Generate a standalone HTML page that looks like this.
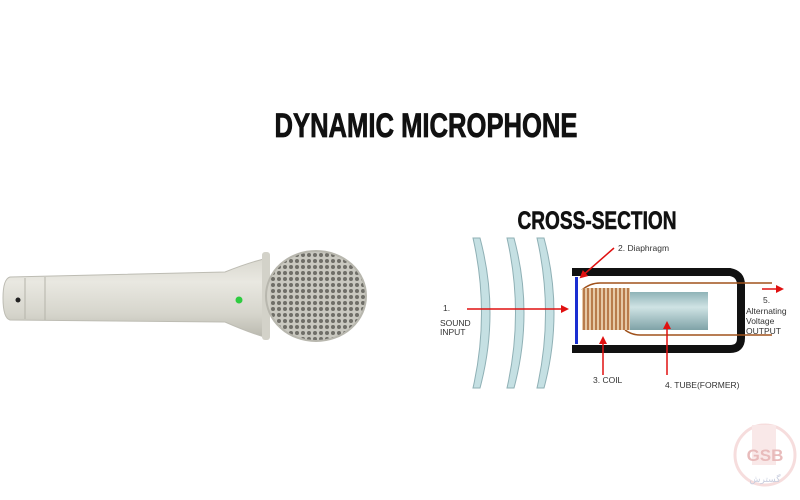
<!DOCTYPE html>
<html><head><meta charset="utf-8"><style>
html,body{margin:0;padding:0;background:#fff;}
svg{display:block;}
</style></head><body>
<svg width="800" height="500" viewBox="0 0 800 500" xmlns="http://www.w3.org/2000/svg" font-family="Liberation Sans, Arial, sans-serif">
<defs>
<linearGradient id="body" x1="0" y1="0" x2="0" y2="1">
<stop offset="0" stop-color="#d9d8cf"/><stop offset="0.3" stop-color="#e9e8e1"/><stop offset="0.7" stop-color="#d6d5cc"/><stop offset="1" stop-color="#b9b8ae"/>
</linearGradient>
<linearGradient id="tube" x1="0" y1="0" x2="0" y2="1">
<stop offset="0" stop-color="#8fb3b8"/><stop offset="0.4" stop-color="#cfe3e4"/><stop offset="1" stop-color="#7fa2a7"/>
</linearGradient>
<pattern id="mesh" width="6" height="6" patternUnits="userSpaceOnUse">
<rect width="6" height="6" fill="#c9c8c0"/><circle cx="3" cy="3" r="2" fill="#6f6e68"/>
</pattern>
<marker id="ar" markerWidth="8" markerHeight="8" refX="6" refY="4" orient="auto" markerUnits="userSpaceOnUse"><path d="M0,0 L8,4 L0,8z" fill="#e01010"/></marker>
</defs>
<text x="426" y="137" font-size="34" font-weight="bold" text-anchor="middle" textLength="303" lengthAdjust="spacingAndGlyphs" fill="#111" stroke="#111" stroke-width="0.8">DYNAMIC MICROPHONE</text>
<text x="597" y="229" font-size="25" font-weight="bold" text-anchor="middle" textLength="159" lengthAdjust="spacingAndGlyphs" fill="#111" stroke="#111" stroke-width="0.6">CROSS-SECTION</text>

<!-- microphone -->
<path d="M10,277 L225,272 Q250,262 268,258 L268,338 Q250,333 225,322 L10,320 Q3,318 3,298 Q3,279 10,277z" fill="url(#body)" stroke="#bdbcb3"/>
<line x1="25" y1="278" x2="25" y2="319" stroke="#b5b4aa"/>
<line x1="45" y1="277" x2="45" y2="320" stroke="#b5b4aa"/>
<circle cx="18" cy="300" r="2.5" fill="#222"/>
<circle cx="239" cy="300" r="3.5" fill="#2ecc40"/>
<ellipse cx="316" cy="296" rx="50" ry="45" fill="url(#mesh)"/>
<rect x="262" y="252" width="8" height="88" rx="3" fill="#d3d2c9"/>
<ellipse cx="316" cy="296" rx="50" ry="45" fill="none" stroke="#b8b7ae" stroke-width="2"/>

<!-- waves -->
<g fill="#c5e0e3" stroke="#8fb0b5" stroke-width="1">
<path d="M473,238 L480,238 Q500,313 480,388 L473,388 Q490,313 473,238z"/>
<path d="M507,238 L514,238 Q534,313 514,388 L507,388 Q524,313 507,238z"/>
<path d="M537,238 L544,238 Q564,313 544,388 L537,388 Q554,313 537,238z"/>
</g>
<!-- housing -->
<path d="M572,272 L730,272 Q741,274 741,285 L741,338 Q741,349 730,349 L572,349" fill="none" stroke="#111" stroke-width="8"/>
<!-- wires -->
<path d="M582,290 Q590,283 600,283 L772,283" fill="none" stroke="#a0521c" stroke-width="1.5"/>
<path d="M625,330 Q632,335 640,335 L772,335" fill="none" stroke="#a0521c" stroke-width="1.5"/>
<rect x="627" y="292" width="81" height="38" fill="url(#tube)"/>
<g stroke="#a0521c" stroke-width="1.3" fill="none">
<rect x="582" y="288" width="48" height="42" fill="#e6c9a6" stroke="none"/>
<path d="M584,288v42 M588,288v42 M592,288v42 M596,288v42 M600,288v42 M604,288v42 M608,288v42 M612,288v42 M616,288v42 M620,288v42 M624,288v42 M628,288v42"/>
</g>
<rect x="575" y="277" width="3" height="67" fill="#1a2fd1"/>
<!-- arrows -->
<g stroke="#e01010" stroke-width="1.5" fill="none">
<line x1="467" y1="309" x2="567" y2="309" marker-end="url(#ar)"/>
<line x1="614" y1="248" x2="581" y2="277" marker-end="url(#ar)"/>
<line x1="603" y1="375" x2="603" y2="338" marker-end="url(#ar)"/>
<line x1="667" y1="375" x2="667" y2="323" marker-end="url(#ar)"/>
<line x1="762" y1="289" x2="782" y2="289" marker-end="url(#ar)"/>
</g>
<g font-size="8.5" fill="#333">
<text x="618" y="251">2.  Diaphragm</text>
<text x="443" y="311">1.</text>
<text x="440" y="326">SOUND</text>
<text x="440" y="335">INPUT</text>
<text x="763" y="303">5.</text>
<text x="746" y="314">Alternating</text>
<text x="746" y="324">Voltage</text>
<text x="746" y="334">OUTPUT</text>
<text x="593" y="383">3. COIL</text>
<text x="665" y="388">4. TUBE(FORMER)</text>
</g>
<!-- watermark -->
<g opacity="0.35">
<circle cx="765" cy="455" r="30" fill="none" stroke="#e8a0a0" stroke-width="3"/>
<rect x="752" y="425" width="24" height="40" fill="#f0c0c0"/>
<text x="765" y="461" font-size="17" font-weight="bold" text-anchor="middle" fill="#c04040">GSB</text>
<text x="765" y="482" font-size="9" text-anchor="middle" fill="#6070a0">گسترش</text>
</g>
</svg>
</body></html>
